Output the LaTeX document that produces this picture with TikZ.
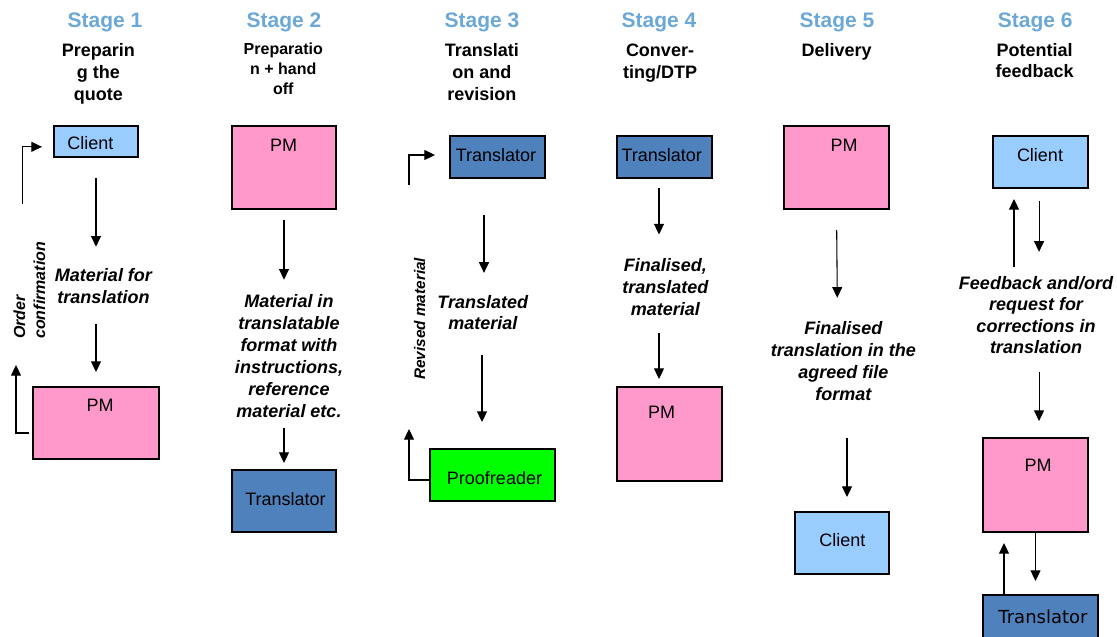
\documentclass[tikz,border=0pt]{standalone}
\usepackage{fontspec}
\setmainfont{Liberation Sans}
\newfontfamily\dejavu{DejaVu Sans}
\usetikzlibrary{arrows.meta}
\definecolor{stageblue}{RGB}{107,168,216}
\definecolor{clientblue}{HTML}{99CCFF}
\definecolor{pmpink}{HTML}{FF99CC}
\definecolor{transblue}{HTML}{4F81BD}
\definecolor{proofgreen}{HTML}{00FF00}
\tikzset{
  box/.style={draw=black, line width=0.8pt, inner sep=0pt, outer sep=0pt},
  clientbox/.style={box, fill=clientblue},
  pmbox/.style={box, fill=pmpink},
  transbox/.style={box, fill=transblue},
  proofbox/.style={box, fill=proofgreen},
  boxtxt/.style={font=\fontsize{13.5}{16}\selectfont, inner sep=0pt, anchor=base},
  stagetitle/.style={font=\fontsize{15.75}{18}\selectfont\bfseries, text=stageblue, anchor=base, inner sep=0pt},
  subtitle/.style={font=\fontsize{13.5}{16.5}\selectfont\bfseries, align=center, anchor=base, inner sep=0pt},
  flowlabel/.style={font=\fontsize{13.5}{16.5}\selectfont\bfseries\itshape, align=center, anchor=base, inner sep=0pt},
  sidelabel/.style={font=\fontsize{12}{15}\selectfont\bfseries\itshape, align=left, anchor=base west, rotate=90, inner sep=0pt},
  arr/.style={-{Triangle[length=8pt,width=7.5pt]}, line width=0.8pt},
  line/.style={line width=0.8pt}
}
\begin{document}
\begin{tikzpicture}[x=0.75pt,y=-0.75pt]
\useasboundingbox (0,0) rectangle (1117,636);

% ---------- titles (anchored at the baseline of the last line) ----------
\node[stagetitle] (st1) at (105,27) {Stage 1};
\node[stagetitle] (st2) at (284,27) {Stage 2};
\node[stagetitle] (st3) at (482,27) {Stage 3};
\node[stagetitle] (st4) at (659,27) {Stage 4};
\node[stagetitle] (st5) at (837,27) {Stage 5};
\node[stagetitle] (st6) at (1035.3,27) {Stage 6};

\node[subtitle] (sb1) at (98.3,100) {Preparin\\g the\\quote};
\node[subtitle, font=\fontsize{12}{15}\selectfont\bfseries] (sb2) at (283.3,94.5) {Preparatio\\n + hand\\off};
\node[subtitle] (sb3) at (481.8,100) {Translati\\on and\\revision};
\node[subtitle] (sb4) at (660,78) {Conver-\\ting/DTP};
\node[subtitle] (sb5) at (836.7,56) {Delivery};
\node[subtitle, font=\fontsize{13.5}{15.75}\selectfont\bfseries] (sb6) at (1034.7,77) {Potential\\feedback};

% ---------- boxes ----------
\node[clientbox, minimum width=63pt, minimum height=23.25pt] (c1) at (96,141.5) {};
\node[pmbox, minimum width=94.5pt, minimum height=54pt] (pm1) at (96,423) {};
\node[pmbox, minimum width=78pt, minimum height=62.25pt] (pm2) at (284,167.5) {};
\node[transbox, minimum width=78pt, minimum height=46.5pt] (t2) at (284,501) {};
\node[transbox, minimum width=71.25pt, minimum height=31.5pt] (t3) at (497.5,157) {};
\node[proofbox, minimum width=93.75pt, minimum height=39pt] (pr3) at (492.5,475) {};
\node[transbox, minimum width=71.25pt, minimum height=31.5pt] (t4) at (664.5,157) {};
\node[pmbox, minimum width=78.75pt, minimum height=70.5pt] (pm4) at (669.5,434) {};
\node[pmbox, minimum width=78.75pt, minimum height=62.25pt] (pm5) at (836.5,167.5) {};
\node[clientbox, minimum width=70.5pt, minimum height=46.5pt] (c5) at (842,543) {};
\node[clientbox, minimum width=71.25pt, minimum height=39pt] (c6) at (1040.5,162) {};
\node[pmbox, minimum width=78.75pt, minimum height=70.5pt] (pm6) at (1035.5,485) {};
\node[transbox, minimum width=86.25pt, minimum height=37.5pt] (t6) at (1040.5,620) {};

% ---------- box texts ----------
\node[boxtxt] (c1t) at (90.5,149) {Client};
\node[boxtxt] (pm1t) at (100,411) {PM};
\node[boxtxt] (pm2t) at (283.5,151) {PM};
\node[boxtxt] (t2t) at (285.5,505) {Translator};
\node[boxtxt] (t3t) at (496,161) {Translator};
\node[boxtxt] (pr3t) at (494.5,484) {Proofreader};
\node[boxtxt] (t4t) at (661.7,161) {Translator};
\node[boxtxt] (pm4t) at (661.7,418) {PM};
\node[boxtxt] (pm5t) at (844,151) {PM};
\node[boxtxt] (c5t) at (842.3,546) {Client};
\node[boxtxt] (c6t) at (1040,161) {Client};
\node[boxtxt] (pm6t) at (1038,471) {PM};
\node[boxtxt, font=\dejavu\fontsize{13.5}{16}\selectfont] (t6t) at (1043,623) {Translator};

% ---------- flow labels (anchored at the baseline of the last line) ----------
\node[flowlabel] (l1) at (103.5,303) {Material for\\translation};
\node[flowlabel] (l2) at (289,417) {Material in\\translatable\\format with\\instructions,\\reference\\material etc.};
\node[flowlabel, font=\fontsize{13.5}{16}\selectfont\bfseries\itshape] (l3) at (482.8,329.5) {Translated\\material};
\node[flowlabel, font=\fontsize{13.5}{16.2}\selectfont\bfseries\itshape] (l4) at (665.3,315) {Finalised,\\translated\\material};
\node[flowlabel] (l5) at (843.3,400) {Finalised\\translation in the\\agreed file\\format};
\node[flowlabel, font=\fontsize{13.5}{16.1}\selectfont\bfseries\itshape] (l6) at (1036,353.5) {Feedback and/ord\\request for\\corrections in\\translation};

\node[sidelabel] (oc) at (45,339) {Order\\confirmation};
\node[sidelabel, font=\fontsize{11.5}{14}\selectfont\bfseries\itshape] (rm) at (425,380) {Revised material};

% ---------- helper coordinates ----------
\coordinate (x4) at (659,0);
\coordinate (x5) at (847,0);
\coordinate (u6) at (1014,0);
\coordinate (u6b) at (1004,0);
\coordinate (oc1) at (22.7,204);
\coordinate (oc2) at (16,365);
\coordinate (rm1) at (409,185);
\coordinate (rm2) at (409,429);

% ---------- connectors ----------
% stage 1
\draw[arr, shorten <=15.75pt, shorten >=15.75pt] (c1.south) -- (c1.south |- l1.north);
\draw[arr, shorten <=15.75pt, shorten >=11.25pt] (c1.south |- l1.south) -- (pm1.north);
\draw[arr, shorten >=9pt] (oc1) |- ([yshift=-4pt]c1.west);
\draw[arr, shorten <=3pt] ([yshift=-7.5pt]pm1.west) -| (oc2);
% stage 2
\draw[arr, shorten <=8.25pt, shorten >=10.5pt] (pm2.south) -- (pm2.south |- l2.north);
\draw[arr, shorten <=8.25pt, shorten >=5.25pt] (pm2.south |- l2.south) -- (t2.north);
% stage 3
\draw[arr, shorten <=27.75pt, shorten >=16.5pt] ([xshift=0.9pt]l3.north |- t3.south) -- ([xshift=0.9pt]l3.north);
\draw[arr, shorten <=18.75pt, shorten >=20.25pt] ([xshift=-0.6pt]l3.south) -- ([xshift=-0.6pt]l3.south |- pr3.north);
\draw[arr, shorten >=11.25pt] (rm1) |- ([yshift=1.5pt]t3.west);
\draw[arr] ([yshift=-3.75pt]pr3.west) -| (rm2);
% stage 4
\draw[arr, shorten <=7.5pt, shorten >=18pt] (x4 |- t4.south) -- (x4 |- l4.north);
\draw[arr, shorten <=13.5pt, shorten >=6pt] (x4 |- l4.south) -- (x4 |- pm4.north);
% stage 5
\draw[arr, shorten <=15.75pt, shorten >=17.25pt] (pm5.south) -- ([xshift=0.75pt]pm5.south |- l5.north);
\draw[arr, shorten <=28.5pt, shorten >=11.25pt] (x5 |- l5.south) -- (x5 |- c5.north);
% stage 6
\draw[arr, shorten <=6.75pt, shorten >=8.25pt] (u6 |- l6.north) -- (u6 |- c6.south);
\draw[arr, shorten <=9.75pt, shorten >=18pt] ([xshift=-1.1pt]c6.south) -- ([xshift=-1.1pt]c6.south |- l6.north);
\draw[arr, shorten <=13.9pt, shorten >=12.75pt] ([xshift=-1.1pt]c6.south |- l6.south) -- ([xshift=-1.1pt]c6.south |- pm6.north);
\draw[arr, shorten >=10.5pt] (pm6.south) -- (pm6.south |- t6.north);
\draw[arr, shorten >=8.25pt] (u6b |- t6.north) -- (u6b |- pm6.south);
\end{tikzpicture}
\end{document}
